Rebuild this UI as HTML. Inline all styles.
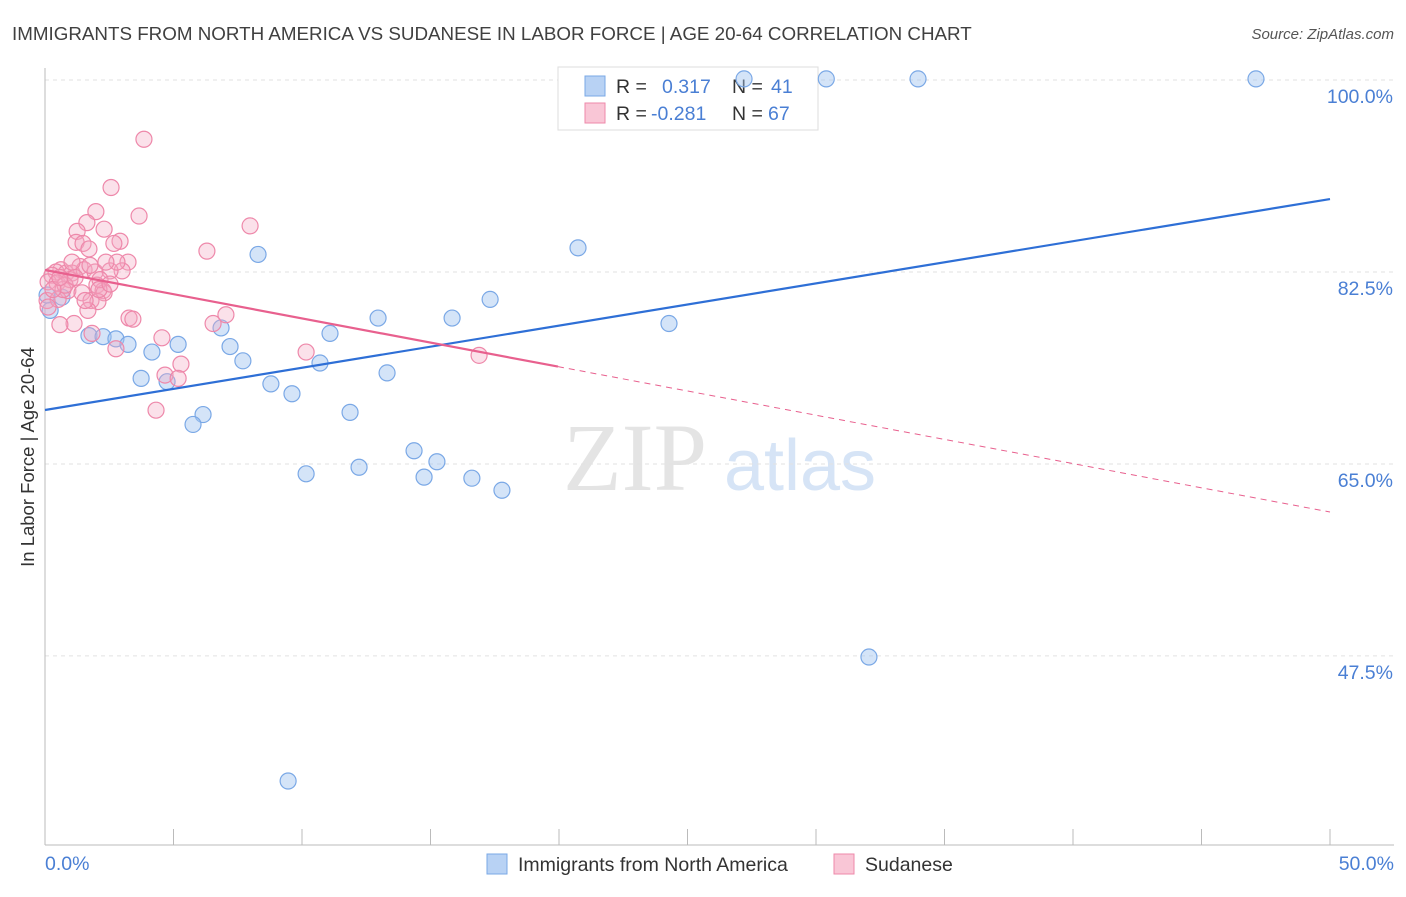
<!DOCTYPE html>
<html><head><meta charset="utf-8"><style>
body{margin:0;background:#fff;font-family:"Liberation Sans",sans-serif;}
</style></head><body>
<svg id="chart" width="1406" height="892" xmlns="http://www.w3.org/2000/svg" style="font-family:'Liberation Sans',sans-serif">
<text x="12" y="40" font-size="18.8" fill="#404040">IMMIGRANTS FROM NORTH AMERICA VS SUDANESE IN LABOR FORCE | AGE 20-64 CORRELATION CHART</text>
<text x="1394" y="39" font-size="15" fill="#555" text-anchor="end" font-style="italic">Source: ZipAtlas.com</text>
<g>
<text x="635" y="490" font-size="96" fill="#e4e4e4" text-anchor="middle" font-family="Liberation Serif,serif">ZIP</text>
<text x="800" y="490" font-size="72" fill="#d6e4f6" text-anchor="middle">atlas</text>
</g>
<g id="grid"></g>
<g id="axes"></g>
<g>
<rect x="558" y="67" width="260" height="63" fill="#fff" stroke="#ddd"/>
<rect x="585" y="76" width="20" height="20" fill="#b8d2f4" stroke="#7aa8e6"/>
<text x="616" y="93" font-size="19.5" fill="#333">R = </text><text x="662" y="93" font-size="19.5" fill="#4a7fd4">0.317</text>
<text x="732" y="93" font-size="19.5" fill="#333">N = </text><text x="771" y="93" font-size="19.5" fill="#4a7fd4">41</text>
<rect x="585" y="103" width="20" height="20" fill="#f9c6d6" stroke="#ee88aa"/>
<text x="616" y="120" font-size="19.5" fill="#333">R = </text><text x="651" y="120" font-size="19.5" fill="#4a7fd4">-0.281</text>
<text x="732" y="120" font-size="19.5" fill="#333">N = </text><text x="768" y="120" font-size="19.5" fill="#4a7fd4">67</text>
</g>
<g id="marks"></g>
<g>
<rect x="487" y="854" width="20" height="20" fill="#b8d2f4" stroke="#7aa8e6"/>
<text x="518" y="871" font-size="19.5" fill="#333">Immigrants from North America</text>
<rect x="834" y="854" width="20" height="20" fill="#f9c6d6" stroke="#ee88aa"/>
<text x="865" y="871" font-size="19.5" fill="#333">Sudanese</text>
</g>
<text transform="translate(34,457) rotate(-90)" font-size="18.5" fill="#333" text-anchor="middle">In Labor Force | Age 20-64</text>
</svg>
<script>
const yTicks=[100,82.5,65,47.5];
const yTickLabels=["100.0%","82.5%","65.0%","47.5%"];
const xTickLabels=["0.0%","50.0%"];
const blueX=[27.2,30.4,33.97,47.12,20.74,8.29,17.32,12.96,15.84,24.28,6.85,11.09,1.71,2.26,2.76,3.23,5.18,4.16,7.2,7.7,10.7,13.31,3.74,4.75,8.79,9.61,11.87,6.15,5.76,14.36,15.25,12.22,10.16,14.75,16.61,17.78,32.06,9.46,0.66,0.2,0.08];
const blueY=[100.1,100.1,100.1,100.1,84.7,84.1,80.0,78.3,78.3,77.8,77.4,76.9,76.7,76.6,76.4,75.9,75.9,75.2,75.7,74.4,74.2,73.3,72.8,72.5,72.3,71.4,69.7,69.5,68.6,66.2,65.2,64.7,64.1,63.8,63.7,62.6,47.4,36.1,80.2,79.0,80.4];
const pinkX=[3.85,2.57,1.98,3.66,7.98,1.63,2.30,1.25,1.21,1.48,2.92,2.68,1.71,6.30,3.23,1.36,0.62,0.43,0.82,1.05,0.27,0.12,0.47,1.52,1.95,3.0,2.53,2.02,2.26,0.89,1.44,2.30,1.79,0.08,0.51,2.06,1.67,0.12,3.27,3.42,7.04,6.54,1.13,0.58,1.83,4.55,10.16,2.76,16.89,5.29,4.67,5.18,4.32,0.97,0.70,2.14,0.78,1.17,1.75,0.31,2.8,1.56,2.37,0.58,2.10,2.53,1.05];
const pinkY=[94.6,90.2,88.0,87.6,86.7,87.0,86.4,86.2,85.2,85.1,85.3,85.1,84.6,84.4,83.4,83.0,82.7,82.5,82.4,82.4,82.2,81.6,81.5,82.7,82.5,82.6,82.6,81.3,80.8,80.8,80.6,80.6,79.9,79.9,80.0,79.8,79.0,79.3,78.3,78.2,78.6,77.8,77.8,77.7,76.9,76.5,75.2,75.5,74.9,74.1,73.1,72.8,69.9,81.8,80.9,81.8,81.3,82.0,83.1,80.9,83.4,79.9,83.4,82.0,80.9,81.4,83.4];
const blueLine=[69.92,89.15];
const pinkLine=[82.68,60.62];
const pinkSolidEnd=19.96;
const X=v=>45+v*25.7, Y=v=>80+(100-v)*10.97;
const NS="http://www.w3.org/2000/svg";
function mk(t,a,p){const e=document.createElementNS(NS,t);for(const k in a)e.setAttribute(k,a[k]);p.appendChild(e);return e;}
const grid=document.getElementById('grid'),axes=document.getElementById('axes'),marks=document.getElementById('marks');
yTicks.forEach((v,i)=>{
 const l=mk('line',{x1:45,x2:1394,y1:Y(v),y2:Y(v),stroke:'#e2e2e2','stroke-dasharray':'4,4'},grid);
 
 
 const t=mk('text',{x:1393,y:Y(v)+23,'font-size':19.5,fill:'#4a7fd4','text-anchor':'end'},axes);
 t.textContent=yTickLabels[i];
 
 
});
const ya=mk('line',{x1:45,x2:45,y1:68,y2:845,stroke:'#bbb'},axes);


const xa=mk('line',{x1:45,x2:1394,y1:845,y2:845,stroke:'#bbb'},axes);


for(let v=0;v<=50;v+=5){const tk=mk('line',{x1:X(v),x2:X(v),y1:829,y2:845,stroke:'#bbb'},axes);
 
 }
[[0,'start'],[50,'end']].forEach((d,i)=>{const t=mk('text',{x:i?1394:45,y:870,'font-size':19.5,fill:'#4a7fd4','text-anchor':d[1]},axes);t.textContent=xTickLabels[i];
 
 });
blueX.forEach((v,i)=>{const c=mk('circle',{cx:X(v),cy:Y(blueY[i]),r:8,fill:'rgba(160,196,240,0.45)',stroke:'#7aa8e6','stroke-width':1.2},marks);
 
 });
pinkX.forEach((v,i)=>{const c=mk('circle',{cx:X(v),cy:Y(pinkY[i]),r:8,fill:'rgba(244,170,196,0.35)',stroke:'#ee88aa','stroke-width':1.2},marks);
 
 });
const bl=mk('line',{x1:X(0),y1:Y(blueLine[0]),x2:X(50),y2:Y(blueLine[1]),stroke:'#2e6fd6','stroke-width':2.2},marks);


const pAt=x=>pinkLine[0]+(pinkLine[1]-pinkLine[0])*x/50;
const ps=mk('line',{x1:X(0),y1:Y(pAt(0)),x2:X(pinkSolidEnd),y2:Y(pAt(pinkSolidEnd)),stroke:'#e8608e','stroke-width':2.2},marks);


const pd=mk('line',{x1:X(pinkSolidEnd),y1:Y(pAt(pinkSolidEnd)),x2:X(50),y2:Y(pAt(50)),stroke:'#e8608e','stroke-width':1,'stroke-dasharray':'6,5'},marks);


</script>
</body></html>
